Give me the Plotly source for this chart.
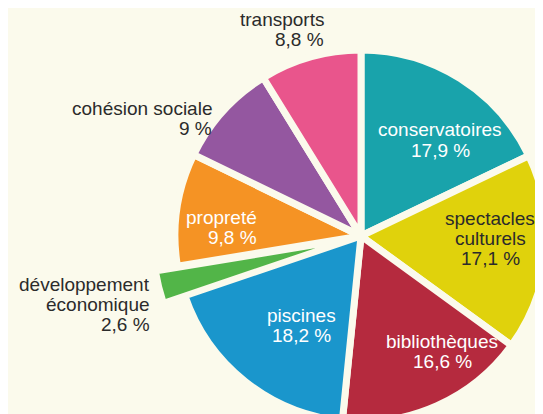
import plotly.graph_objects as go

# ---- data ----
labels = ["conservatoires", "spectacles<br>culturels", "bibliothèques", "piscines",
          "développement<br>économique", "propreté", "cohésion sociale", "transports"]
values = [17.9, 17.1, 16.6, 18.2, 2.6, 9.8, 9.0, 8.8]
colors = ["#19A3AB", "#E0D20C", "#B52A3E", "#1A96CC",
          "#52B548", "#F59324", "#9457A0", "#E9558C"]
pulled = "développement<br>économique"

# ---- style / layout ----
W, H = 543, 414
BG = "#FBFAEC"
DARK = "#2B2B2B"
FONT = "Liberation Sans, Arial, sans-serif"
FS = 19
LINE = 20

# label placement: (x, y of first line, align, color) in pixels
label_pos = {
    "conservatoires": (432, 122, "center", "white"),
    "spectacles<br>culturels": (482, 210, "center", DARK),
    "bibliothèques": (434, 333, "center", "white"),
    "piscines": (293, 307, "center", "white"),
    "développement<br>économique": (144, 276, "right", DARK),
    "propreté": (251, 209, "right", "white"),
    "cohésion sociale": (206, 101, "right", DARK),
    "transports": (318, 11, "right", DARK),
}


def dom(cx, cy, r):
    return dict(x=[(cx - r) / W, (cx + r) / W],
                y=[max(0, 1 - (cy + r) / H), min(1, 1 - (cy - r) / H)])


clear = "rgba(0,0,0,0)"
a_colors = [clear if l == pulled else c for l, c in zip(labels, colors)]
a_widths = [0 if l == pulled else 7 for l in labels]
b_colors = [c if l == pulled else clear for l, c in zip(labels, colors)]
b_widths = [2 if l == pulled else 0 for l in labels]

fig = go.Figure()
fig.add_trace(go.Pie(
    labels=labels, values=values, sort=False, direction="clockwise", rotation=0,
    marker=dict(colors=a_colors, line=dict(color=BG, width=a_widths)),
    textinfo="none", hoverinfo="label+value", showlegend=False,
    domain=dom(353, 228, 186),
))
fig.add_trace(go.Pie(
    labels=labels, values=values, sort=False, direction="clockwise", rotation=0,
    marker=dict(colors=b_colors, line=dict(color=BG, width=b_widths)),
    textinfo="none", hoverinfo="skip", showlegend=False,
    domain=dom(320, 237, 172),
))

annotations = []
for lab, val in zip(labels, values):
    x, y, align, col = label_pos[lab]
    lines = lab.split("<br>") + [f"{val:g}".replace(".", ",") + " %"]
    for i, t in enumerate(lines):
        annotations.append(dict(
            x=x / W, y=1 - (y + i * LINE) / H, xref="paper", yref="paper",
            text=t, showarrow=False, xanchor=align, yanchor="middle",
            font=dict(family=FONT, size=FS, color=col),
        ))

fig.update_layout(
    width=W, height=H, margin=dict(l=0, r=0, t=0, b=0),
    paper_bgcolor=BG, plot_bgcolor=BG, annotations=annotations,
    showlegend=False,
)
fig.write_html("out.html")
